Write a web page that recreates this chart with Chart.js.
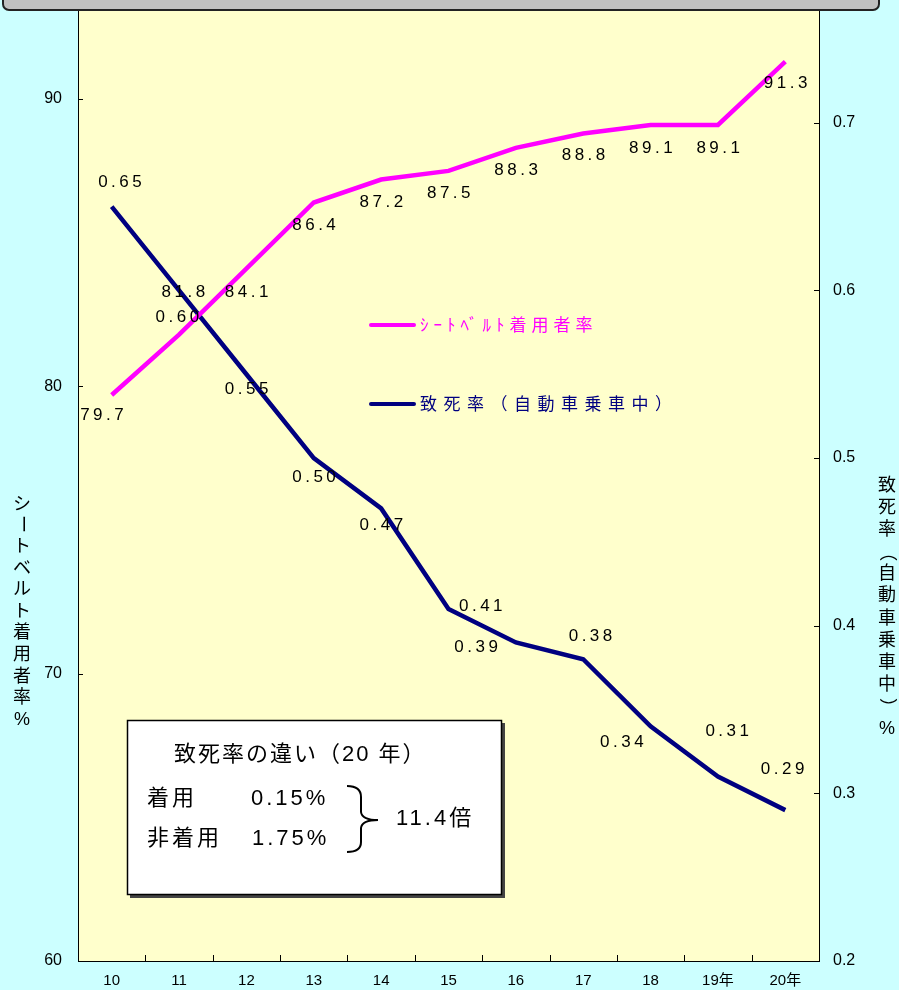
<!DOCTYPE html>
<html lang="ja">
<head>
<meta charset="utf-8">
<script src="https://cdn.jsdelivr.net/npm/chart.js@4.4.1/dist/chart.umd.min.js"></script>
<style>
html, body { margin: 0; padding: 0; background: #ccffff; }
canvas { display: block; }
</style>
</head>
<body>
<canvas id="myChart" width="899" height="990"></canvas>
<script>
// x axis categories (平成)
let years = ['10', '11', '12', '13', '14', '15', '16', '17', '18', '19年', '20年'];
// シートベルト着用者率 (%)
let beltRate = [79.7, 81.8, 84.1, 86.4, 87.2, 87.5, 88.3, 88.8, 89.1, 89.1, 91.3];
// 致死率（自動車乗車中）(%)
let deathRate = [0.65, 0.60, 0.55, 0.50, 0.47, 0.41, 0.39, 0.38, 0.34, 0.31, 0.29];
// tick labels
let leftTicks = [60, 70, 80, 90];
let rightTicks = [0.2, 0.3, 0.4, 0.5, 0.6, 0.7];

// where each value label sits relative to its point (dx, dy)
let beltLabelPos = [[-10, 20], [4, -42], [0, 24], [0, 23], [0, 23], [0, 22], [0, 22], [0, 22], [0, 23], [0, 23], [0, 22]];
let deathLabelPos = [[8, -24], [-2, 27], [0, 15], [0, 19], [0, 17], [32, -3], [-40, 5], [7, -23], [-29, 16], [9, -45], [-3, -41]];

const sans = "'Liberation Sans', Arial, 'Noto Sans CJK JP', sans-serif";
Chart.defaults.font.family = sans;
Chart.defaults.color = '#000';

// draw one string char by char, top to bottom
function drawVertical(ctx, text, x, y, step) {
    for (let i = 0; i < text.length; i++) {
        let ch = text[i];
        ctx.save();
        ctx.translate(x, y + i * step);
        if ('ー（）'.indexOf(ch) >= 0) ctx.rotate(Math.PI / 2);
        ctx.fillText(ch, 0, 0);
        ctx.restore();
    }
}

function noPad(s) {
    s.paddingTop = 0;
    s.paddingBottom = 0;
}

const decor = {
    id: 'decor',
    beforeDraw(chart) {
        const ctx = chart.ctx, a = chart.chartArea;
        ctx.save();
        ctx.fillStyle = '#ccffff';
        ctx.fillRect(0, 0, chart.width, chart.height);
        ctx.fillStyle = '#ffffcc';
        ctx.fillRect(a.left, 0, a.right - a.left, a.bottom);
        ctx.restore();
    },
    afterDatasetsDraw(chart) {
        const ctx = chart.ctx;
        ctx.save();
        ctx.font = '17px ' + sans;
        ctx.letterSpacing = '3.5px';
        ctx.fillStyle = '#000';
        ctx.textAlign = 'center';
        ctx.textBaseline = 'middle';
        const sets = [[beltRate, beltLabelPos, 1], [deathRate, deathLabelPos, 2]];
        sets.forEach((s, di) => {
            const meta = chart.getDatasetMeta(di);
            meta.data.forEach((pt, i) => {
                const off = s[1][i];
                ctx.fillText(s[0][i].toFixed(s[2]), pt.x + off[0] + 2, pt.y + off[1]);
            });
        });
        ctx.restore();
    },
    afterDraw(chart) {
        const ctx = chart.ctx, a = chart.chartArea;
        const x = chart.scales.x, y = chart.scales.y, y1 = chart.scales.y1;
        ctx.save();

        // inward tick marks
        ctx.strokeStyle = '#000';
        ctx.lineWidth = 1;
        ctx.beginPath();
        leftTicks.forEach(v => {
            const py = Math.round(y.getPixelForValue(v)) + 0.5;
            ctx.moveTo(a.left, py); ctx.lineTo(a.left + 5, py);
        });
        rightTicks.forEach(v => {
            const py = Math.round(y1.getPixelForValue(v)) + 0.5;
            ctx.moveTo(a.right, py); ctx.lineTo(a.right - 5, py);
        });
        for (let i = 1; i < years.length; i++) {
            const px = Math.round((x.getPixelForValue(i) + x.getPixelForValue(i - 1)) / 2) + 0.5;
            ctx.moveTo(px, a.bottom); ctx.lineTo(px, a.bottom - 6);
        }
        ctx.stroke();

        // legend inside plot
        chart.data.datasets.forEach((ds, i) => {
            const ly = i === 0 ? 325 : 404;
            ctx.strokeStyle = ds.borderColor;
            ctx.lineWidth = 4;
            ctx.lineCap = 'round';
            ctx.beginPath();
            ctx.moveTo(371, ly); ctx.lineTo(414, ly);
            ctx.stroke();
            ctx.fillStyle = ds.borderColor;
            ctx.font = '17px ' + sans;
            ctx.letterSpacing = i === 0 ? '5px' : '6.5px';
            ctx.textAlign = 'left';
            ctx.textBaseline = 'middle';
            ctx.fillText(ds.label, 420, ly + 1);
        });
        ctx.letterSpacing = '0px';

        // note box
        ctx.fillStyle = '#444';
        ctx.fillRect(130, 723, 375, 175);
        ctx.fillStyle = '#fff';
        ctx.fillRect(127, 720, 375, 175);
        ctx.strokeStyle = '#000';
        ctx.lineWidth = 1.5;
        ctx.strokeRect(127.5, 720.5, 374, 174);
        ctx.fillStyle = '#000';
        ctx.font = '22px ' + sans;
        ctx.letterSpacing = '2px';
        ctx.textAlign = 'left';
        ctx.textBaseline = 'middle';
        ctx.fillText('致死率の違い（20 年）', 174, 755);
        ctx.letterSpacing = '3px';
        ctx.fillText('着用', 147, 799);
        ctx.fillText('0.15%', 251, 799);
        ctx.fillText('非着用', 147, 839);
        ctx.fillText('1.75%', 252, 839);
        ctx.fillText('11.4倍', 396, 819);
        // brace
        ctx.lineWidth = 2;
        ctx.lineCap = 'butt';
        ctx.beginPath();
        ctx.moveTo(347, 786);
        ctx.quadraticCurveTo(361, 786, 361, 797);
        ctx.lineTo(361, 812);
        ctx.quadraticCurveTo(362, 820, 378, 820);
        ctx.quadraticCurveTo(362, 820, 361, 828);
        ctx.lineTo(361, 842);
        ctx.quadraticCurveTo(361, 852, 347, 852);
        ctx.stroke();

        // vertical axis titles
        ctx.letterSpacing = '0px';
        ctx.font = '18px ' + sans;
        ctx.textAlign = 'center';
        drawVertical(ctx, 'シー', 22, 505, 19);
        drawVertical(ctx, 'トベルト着用者率%', 22, 547, 21.6);
        drawVertical(ctx, '致死率（自動車乗車中）%', 887, 486, 22.1);

        // grey title bar cut off at top
        ctx.fillStyle = '#c0c0c0';
        ctx.strokeStyle = '#222';
        ctx.lineWidth = 2;
        ctx.beginPath();
        ctx.roundRect(3, -20, 876, 30, 6);
        ctx.fill();
        ctx.stroke();
        ctx.restore();
    }
};

let myChart = new Chart(document.getElementById('myChart'), {
    type: 'line',
    data: {
        labels: years,
        datasets: [{
            label: 'ｼｰﾄﾍﾞﾙﾄ着用者率',
            data: beltRate,
            yAxisID: 'y',
            borderColor: '#ff00ff',
            borderWidth: 4.5,
            pointRadius: 0,
            fill: false,
            tension: 0
        }, {
            label: '致死率（自動車乗車中）',
            data: deathRate,
            yAxisID: 'y1',
            borderColor: '#000080',
            borderWidth: 4.5,
            pointRadius: 0,
            fill: false,
            tension: 0
        }]
    },
    options: {
        responsive: false,
        animation: false,
        devicePixelRatio: 1,
        layout: { padding: { top: 10, left: 0, right: 0, bottom: 0 } },
        plugins: {
            legend: { display: false },
            tooltip: { enabled: false }
        },
        scales: {
            x: {
                offset: true,
                grid: { display: true, drawOnChartArea: false, drawTicks: false, offset: true },
                border: { display: true, color: '#000', width: 1 },
                ticks: { padding: 11, font: { size: 15 }, maxRotation: 0, autoSkip: false },
                afterFit(s) { s.height = 29; s.paddingLeft = 0; s.paddingRight = 0; }
            },
            y: {
                position: 'left',
                min: 60,
                max: 93.1,
                grid: { drawOnChartArea: false, drawTicks: false },
                border: { display: true, color: '#000', width: 1 },
                ticks: { padding: 16, font: { size: 16 } },
                afterBuildTicks(s) { s.ticks = leftTicks.map(v => ({ value: v })); },
                afterFit(s) { s.width = 78; noPad(s); }
            },
            y1: {
                position: 'right',
                min: 0.2,
                max: 0.7673,
                grid: { drawOnChartArea: false, drawTicks: false },
                border: { display: true, color: '#000', width: 1 },
                ticks: { padding: 14, font: { size: 16 }, callback: v => v.toFixed(1) },
                afterBuildTicks(s) { s.ticks = rightTicks.map(v => ({ value: v })); },
                afterFit(s) { s.width = 80; noPad(s); }
            }
        }
    },
    plugins: [decor]
});
</script>
</body>
</html>
